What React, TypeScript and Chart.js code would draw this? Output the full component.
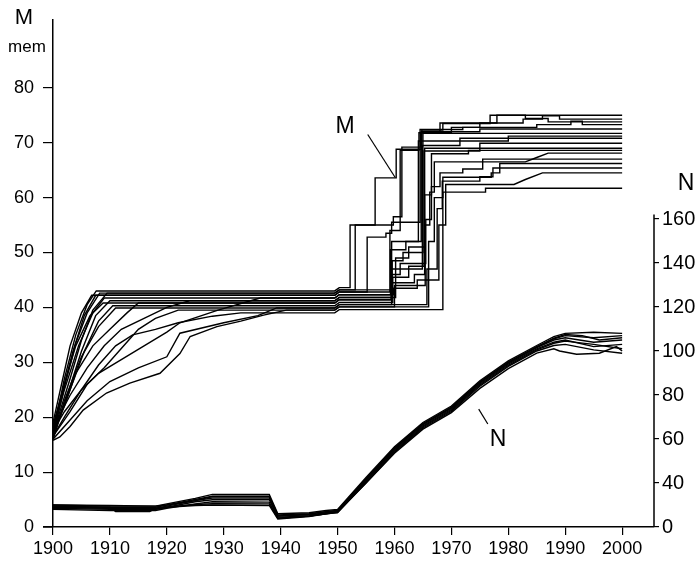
import { useEffect, useRef } from 'react';
import { Chart, registerables } from 'chart.js';

Chart.register(...registerables);

type P = [number, number];

const FONT = '"Liberation Sans", Arial, Helvetica, sans-serif';

// X axis (years)
const yearMin = 1900;
const yearMax = 2005.6;
const yearTickStep = 10;

// Left axis (M, mem)
const mAxisMax = 92.35;
const mLabelMax = 80;
// Right axis (N) — bottom tick is printed as "0"
const nAxisMin = 20;
const nAxisMax = 250.45;
const nAxisTop = 162;
const nLabelMax = 160;

// ---- M series (left axis) ----
const m01: P[] = [[1900,17],[1902,27],[1904,35],[1906,40.5],[1907.6,43],[1949.5,43],[1950.3,43.6],[1952.2,43.6],[1952.2,55],[1956.6,55],[1956.6,63.6],[1960.3,63.6],[1960.3,68.8],[1964.8,68.8],[1964.8,72.3],[1968.5,72.3],[1968.5,73.5],[1976.8,73.5],[1976.8,75],[2000,75]];
const m02: P[] = [[1900,16.5],[1902,25.5],[1904,33.5],[1906,39],[1908.2,42.6],[1949.5,42.6],[1950.3,43.2],[1953.1,43.2],[1953.1,55],[1959.8,55],[1959.8,56.5],[1961.3,56.5],[1961.3,69.2],[1964.6,69.2],[1964.6,71.8],[1970,71.8],[1970,72.8],[1975,72.8],[1975,73.6],[1982.6,73.6],[1982.6,74.3],[1986,74.3],[1986,74.9],[1989,74.9],[1989,74.3],[2000,74.3]];
const m03: P[] = [[1900,18],[1901.5,24],[1903.5,32],[1905.5,38.5],[1907.5,42.2],[1949.5,42.2],[1950.3,42.8],[1955.2,42.8],[1955.2,52.8],[1958.5,52.8],[1958.5,53.5],[1959.5,53.5],[1959.5,55.5],[1964.5,55.5],[1964.5,72.4],[1972,72.4],[1972,72.8],[1985,72.8],[1985,73.3],[1991,73.3],[1991,73.9],[1993,73.9],[1993,73.3],[2000,73.3]];
const m04: P[] = [[1900,17.5],[1902,25],[1904.5,33],[1907,39],[1909,41.7],[1949.5,41.7],[1950.3,42.3],[1959.3,42.3],[1959.3,50.5],[1962,50.5],[1962,52],[1964.7,52],[1964.7,72],[1975,72],[1975,72.5],[2000,72.5]];
const m05: P[] = [[1900,16],[1902.5,24],[1905,32],[1907.5,38.5],[1910,41.2],[1949.5,41.2],[1950.3,41.8],[1959.6,41.8],[1959.6,48.5],[1961.5,48.5],[1961.5,50],[1965,50],[1965,71.7],[2000,71.7]];
const m06: P[] = [[1900,18.5],[1902,26],[1904,33],[1906.5,38.5],[1908.8,40.8],[1949.5,40.8],[1950.3,41.4],[1959.4,41.4],[1959.4,47],[1964.9,47],[1964.9,69.5],[1971.5,69.5],[1971.5,70.8],[2000,70.8]];
const m07: P[] = [[1900,17],[1903,25],[1905.5,32],[1908,37.5],[1910.5,40.3],[1949.5,40.3],[1950.3,40.9],[1959.7,40.9],[1959.7,45.5],[1962.5,45.5],[1962.5,47.5],[1965.2,47.5],[1965.2,68.5],[1975,68.5],[1975,69.9],[2000,69.9]];
const m08: P[] = [[1900,16],[1902,23],[1905,31],[1908,36.5],[1911,39.9],[1949.5,39.9],[1950.3,40.5],[1959.5,40.5],[1959.5,44.5],[1963.5,44.5],[1963.5,46],[1965.3,46],[1965.3,69],[2000,69]];
const m09: P[] = [[1900,16.5],[1903,21],[1906,26],[1909,29],[1912,32.5],[1915,36],[1918,38],[1922,39.5],[1949.5,39.5],[1950.3,40.1],[1960,40.1],[1960,44],[1965.4,44],[1965.4,55],[1966.2,55],[1966.2,61],[1967,61],[1967,66.5],[1983,66.5],[1985,67.3],[1987,68.1],[2000,68.1]];
const m10: P[] = [[1900,17],[1902,22],[1904,28],[1907,33],[1910,36],[1913,39],[1915,40.8],[1949.5,40.8],[1950.3,41.4],[1959.5,41.4],[1959.5,46],[1961,46],[1961,48],[1965.5,48],[1965.5,56],[1966.5,56],[1966.5,62],[1968,62],[1968,64.5],[1972,64.5],[1972,65.2],[1975.5,65.2],[1975.5,67],[2000,67]];
const m11: P[] = [[1900,17.5],[1902,21],[1905,25],[1908,28],[1912,30.5],[1916,33],[1920,35.5],[1922.3,37.2],[1929,39.5],[1936.4,41.7],[1949.5,41.7],[1950.3,42.3],[1959.8,42.3],[1959.8,43.5],[1964,43.5],[1964,45],[1966,45],[1966,52],[1967,52],[1967,60],[1968.5,60],[1968.5,63.7],[1977,63.7],[1977,64.5],[1978.5,64.5],[1978.5,66.2],[2000,66.2]];
const m12: P[] = [[1900,16],[1903,19.5],[1906,23],[1910,26.5],[1915,29],[1920,31],[1922.3,35.3],[1930,37.2],[1936,38.5],[1939.3,39.9],[1949.5,39.9],[1950.3,40.5],[1965.7,40.5],[1965.7,47],[1967.5,47],[1967.5,58],[1968.4,58],[1968.4,63],[1975,63],[1975,63.8],[1977.3,63.8],[1977.3,65.4],[2000,65.4]];
const m13: P[] = [[1900,15.8],[1901.2,16.4],[1903,18.3],[1905.3,21.3],[1909.4,24.4],[1913.5,26.2],[1918.8,28],[1922.3,31.6],[1924.1,34.7],[1928.8,36.5],[1933,37.5],[1937,38.6],[1941,39.5],[1949.5,39.5],[1950.3,40.1],[1966,40.1],[1966,45],[1967.8,45],[1967.8,55],[1969,55],[1969,62.4],[1981,62.4],[1983,63.3],[1986,64.5],[2000,64.5]];
const m14: P[] = [[1900,16.5],[1902,20],[1905,25],[1908,29.5],[1911,33],[1914,35],[1918,36],[1922,37.2],[1928,38.4],[1933,39],[1949.5,39],[1950.3,39.6],[1968.5,39.6],[1968.5,61],[1976,61],[1976,61.7],[2000,61.7]];
const m15: P[] = [[1900,19],[1901.5,26],[1903,33],[1905,39],[1906.8,42.2],[1949.5,42.2],[1950.3,42.8],[1959.2,42.8],[1959.2,54],[1961,54],[1961,68.6],[1964.3,68.6],[1964.3,71.8],[1968,71.8],[1968,73.6],[1978,73.6],[1978,75],[1983,75],[1983,74.4],[1987,74.4],[1987,73.8],[2000,73.8]];
const m16: P[] = [[1900,17],[1903,27],[1905,34],[1907,39.5],[1909.5,42.6],[1949.5,42.6],[1950.3,43.2],[1959.5,43.2],[1959.5,52],[1964.2,52],[1964.2,70.3],[1980,70.3],[1980,71.2],[2000,71.2]];
const m17: P[] = [[1900,18],[1903,24],[1906,29],[1909,33],[1912,36],[1916,38],[1920,40],[1924,41.2],[1949.5,41.2],[1950.3,41.8],[1960.2,41.8],[1960.2,49],[1962.5,49],[1962.5,51],[1965.3,51],[1965.3,60.5],[1966.5,60.5],[1966.5,68],[1973,68],[1973,68.6],[2000,68.6]];

const mSeries: P[][] = [m01, m02, m03, m04, m05, m06, m07, m08, m09, m10, m11, m12, m13, m14, m15, m16, m17];

// ---- N series (right axis) ----
const n1: P[] = [[1900,30],[1910,29.8],[1918,29.5],[1920,30.5],[1925,33],[1928,34.8],[1938,34.8],[1939.5,26],[1945,26.5],[1948,27.5],[1950,28],[1955,42.5],[1960,56.5],[1965,67.5],[1970,75],[1975,86.5],[1980,95.5],[1985,102.5],[1988,106.5],[1990,108],[1995,108.5],[2000,108]];
const n2: P[] = [[1900,29.5],[1910,29],[1918,29],[1920,30],[1925,32.5],[1928,34],[1938,34],[1939.5,25.5],[1945,26],[1948,27],[1950,27.5],[1955,42],[1960,56],[1965,67],[1970,74.5],[1975,86],[1980,95],[1985,102],[1988,105.5],[1990,107],[1995,106],[2000,107]];
const n3: P[] = [[1900,29],[1910,28.5],[1918,28.5],[1920,29.5],[1925,32],[1928,33.2],[1938,33.2],[1939.5,25],[1945,25.5],[1948,26.5],[1950,27],[1955,41.5],[1960,55.5],[1965,66.5],[1970,74],[1975,85.5],[1980,94.5],[1985,101.5],[1988,105],[1990,106],[1995,104],[2000,105]];
const n4: P[] = [[1900,28.5],[1910,28],[1918,28],[1920,29],[1925,31.5],[1928,32.4],[1938,32.4],[1939.5,24.5],[1945,25],[1948,26],[1950,27],[1955,41],[1960,55],[1965,66],[1970,73.5],[1975,85],[1980,94],[1985,101],[1988,104],[1990,105],[1995,102],[2000,103]];
const n5: P[] = [[1900,28],[1910,27.5],[1918,27.5],[1920,28.5],[1925,30.5],[1928,31.5],[1938,31.3],[1939.5,24],[1945,25],[1948,26],[1950,26.5],[1955,40.5],[1960,54.5],[1965,65.5],[1970,73],[1975,84.5],[1980,93.5],[1985,100.5],[1988,103.5],[1990,104.5],[1995,103],[2000,101]];
const n6: P[] = [[1900,29.5],[1910,29],[1911,27],[1917,27],[1918,28.5],[1920,29],[1925,30.2],[1928,30.6],[1938,30.5],[1939.5,24],[1945,25],[1948,26.5],[1950,27],[1955,40],[1960,54],[1965,65],[1970,72.5],[1975,84],[1980,93],[1985,100],[1988,102.5],[1990,103],[1995,100.5],[2000,99]];
const n7: P[] = [[1900,29],[1910,28.5],[1918,28],[1920,29],[1925,29.8],[1928,30],[1938,29.8],[1939.5,23.6],[1945,24.8],[1948,26],[1950,26.5],[1955,40],[1960,53.5],[1965,64.5],[1970,72],[1975,83],[1980,92],[1985,99],[1988,101],[1989,100],[1992,98.5],[1996,99],[1999,102],[2000,100]];
const n8: P[] = [[1900,30],[1910,29.5],[1918,29.5],[1920,30],[1925,32],[1928,33.8],[1938,33.8],[1939.5,25],[1945,25.8],[1948,27],[1950,27.5],[1955,41.8],[1960,55.8],[1965,66.8],[1970,74.2],[1975,85.8],[1980,94.8],[1985,101.8],[1988,105.8],[1990,107.5],[1993,107],[1996,105],[2000,106]];

const nSeries: P[][] = [n1, n2, n3, n4, n5, n6, n7, n8];

// ---- annotations (data coordinates) ----
const mNote: P = [1951.3, 72.9];
const mLeader: P[] = [[1955.3, 71.5], [1960.1, 63.7]];
const nNote: P = [1978.2, 59.5];
const nLeader: P[] = [[1974.8, 73.6], [1976.4, 66.8]];

const toXY = (arr: P[]) => arr.map(([x, y]) => ({ x, y }));

export default function App() {
  const ref = useRef<HTMLCanvasElement | null>(null);

  useEffect(() => {
    document.body.style.margin = '0';
    const canvas = ref.current;
    if (!canvas) return;

    const decor = {
      id: 'decor',
      afterDraw(chart: any) {
        const ctx = chart.ctx as CanvasRenderingContext2D;
        const xs = chart.scales.x;
        const ys = chart.scales.y;
        const y2 = chart.scales.y2;
        const area = chart.chartArea;
        ctx.save();
        ctx.strokeStyle = '#000';
        ctx.fillStyle = '#000';
        ctx.lineWidth = 1.5;
        // right axis line (stops just above the 160 tick)
        ctx.beginPath();
        ctx.moveTo(area.right, y2.getPixelForValue(nAxisMin));
        ctx.lineTo(area.right, y2.getPixelForValue(nAxisTop));
        ctx.stroke();
        // short stub of the x axis left of the y axis
        ctx.beginPath();
        ctx.moveTo(area.left - 10, area.bottom);
        ctx.lineTo(area.left, area.bottom);
        ctx.stroke();

        // axis titles
        ctx.textAlign = 'center';
        ctx.textBaseline = 'middle';
        ctx.font = `22px ${FONT}`;
        ctx.fillText('M', 24, 18);
        ctx.font = `17px ${FONT}`;
        ctx.fillText('mem', 27, 47);
        ctx.font = `23px ${FONT}`;
        ctx.fillText('N', 686, 184);

        // annotation M
        ctx.font = `23px ${FONT}`;
        ctx.fillText('M', xs.getPixelForValue(mNote[0]), ys.getPixelForValue(mNote[1]));
        ctx.lineWidth = 1.2;
        ctx.beginPath();
        ctx.moveTo(xs.getPixelForValue(mLeader[0][0]), ys.getPixelForValue(mLeader[0][1]));
        ctx.lineTo(xs.getPixelForValue(mLeader[1][0]), ys.getPixelForValue(mLeader[1][1]));
        ctx.stroke();
        // annotation N
        ctx.fillText('N', xs.getPixelForValue(nNote[0]), y2.getPixelForValue(nNote[1]));
        ctx.beginPath();
        ctx.moveTo(xs.getPixelForValue(nLeader[0][0]), y2.getPixelForValue(nLeader[0][1]));
        ctx.lineTo(xs.getPixelForValue(nLeader[1][0]), y2.getPixelForValue(nLeader[1][1]));
        ctx.stroke();
        ctx.restore();
      },
    };

    const datasets: any[] = [
      ...mSeries.map((s, i) => ({
        label: `M${i + 1}`,
        data: toXY(s),
        yAxisID: 'y',
        borderColor: '#000',
        borderWidth: 1.4,
        pointRadius: 0,
        tension: 0,
        fill: false,
      })),
      ...nSeries.map((s, i) => ({
        label: `N${i + 1}`,
        data: toXY(s),
        yAxisID: 'y2',
        borderColor: '#000',
        borderWidth: 1.4,
        pointRadius: 0,
        tension: 0,
        fill: false,
      })),
    ];

    const chart = new Chart(canvas, {
      type: 'line',
      data: { datasets },
      options: {
        responsive: false,
        animation: false,
        devicePixelRatio: 1,
        layout: { padding: { top: 20, left: 0, right: 0, bottom: 0 } },
        plugins: { legend: { display: false }, tooltip: { enabled: false } },
        scales: {
          x: {
            type: 'linear',
            min: yearMin,
            max: yearMax,
            afterFit: (s: any) => { s.height = 38; },
            border: { display: true, color: '#000', width: 1.5 },
            grid: { drawOnChartArea: false, color: '#000', lineWidth: 1.2, tickLength: 8 },
            ticks: {
              stepSize: yearTickStep,
              includeBounds: false,
              autoSkip: false,
              maxRotation: 0,
              padding: 3,
              color: '#000',
              font: { family: FONT, size: 18 },
              callback: (v: any) => String(v),
            },
          },
          y: {
            type: 'linear',
            position: 'left',
            min: 0,
            max: mAxisMax,
            afterFit: (s: any) => { s.width = 53; },
            border: { display: true, color: '#000', width: 1.5 },
            grid: {
              drawOnChartArea: false,
              lineWidth: 1.2,
              tickLength: 10,
              color: (c: any) => (c.tick && c.tick.value > mLabelMax ? 'rgba(0,0,0,0)' : '#000'),
            },
            ticks: {
              stepSize: 10,
              includeBounds: false,
              padding: 9,
              color: '#000',
              font: { family: FONT, size: 18 },
              callback: (v: any) => (v > mLabelMax ? '' : String(v)),
            },
          },
          y2: {
            type: 'linear',
            position: 'right',
            min: nAxisMin,
            max: nAxisMax,
            afterFit: (s: any) => { s.width = 46; },
            border: { display: false },
            grid: {
              drawOnChartArea: false,
              lineWidth: 1.2,
              tickLength: 5,
              color: (c: any) => (c.tick && c.tick.value > nLabelMax ? 'rgba(0,0,0,0)' : '#000'),
            },
            ticks: {
              stepSize: 10,
              includeBounds: false,
              padding: 3,
              color: '#000',
              font: { family: FONT, size: 20 },
              callback: (v: any) => {
                if (v > nLabelMax || v % 20 !== 0) return '';
                return v === nAxisMin ? '0' : String(v);
              },
            },
          },
        },
      },
      plugins: [decor],
    });

    return () => chart.destroy();
  }, []);

  return (
    <div style={{ width: 700, height: 565, background: '#fff' }}>
      <canvas ref={ref} width={700} height={565} style={{ display: 'block' }} />
    </div>
  );
}
